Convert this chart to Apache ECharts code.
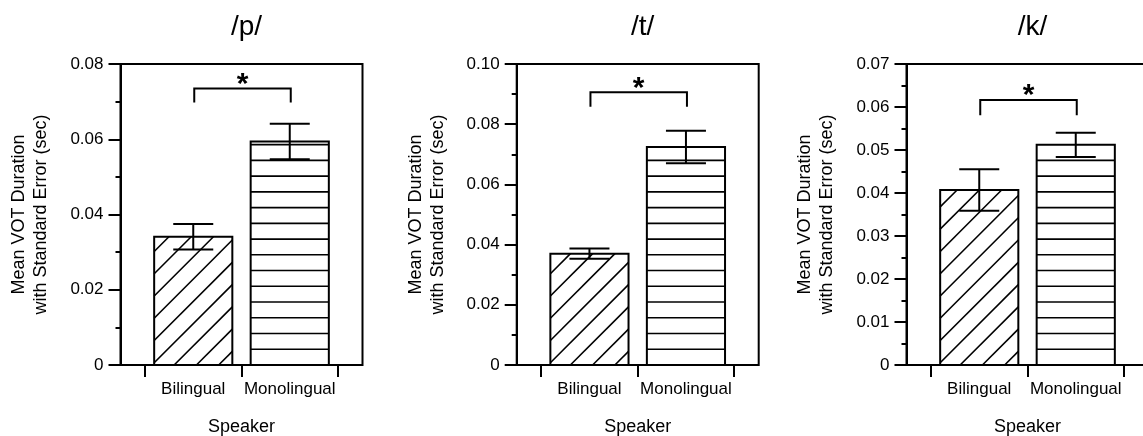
<!DOCTYPE html>
<html>
<head>
<meta charset="utf-8">
<script src="https://cdn.jsdelivr.net/npm/echarts@6/dist/echarts.min.js"></script>
<style>
html,body{margin:0;padding:0;background:#fff;}
#chart{width:1143px;height:436px;}
</style>
</head>
<body>
<div id="chart"></div>
<script>
// ---- data ----
const categories = ['Bilingual', 'Monolingual'];
const panelTitles = ['/p/', '/t/', '/k/'];
const pMeans = [0.0341, 0.0594];
const pSE = [0.0034, 0.0047];
const tMeans = [0.0370, 0.0724];
const tSE = [0.0017, 0.0054];
const kMeans = [0.0407, 0.0512];
const kSE = [0.0048, 0.0028];
const yMaxes = [0.08, 0.10, 0.07];
const yIntervals = [0.02, 0.02, 0.01];
const bracketTops = [0.0735, 0.0906, 0.0616];
const bracketLegEnds = [0.0698, 0.0858, 0.0581];
const sigLabels = ['*', '*', '*'];
const yAxisTitle = 'Mean VOT Duration\nwith Standard Error (sec)';
const xAxisTitle = 'Speaker';

// ---- layout ----
const FONT = '"Liberation Sans", Arial, Helvetica, sans-serif';
const boxLefts = [120.5, 516.7, 906.5];
const boxWidth = 242;
const innerPad = 24.5;
const innerWidth = 193;
const gridTop = 64;
const gridHeight = 301;
const HATCH = 15.74;

const means = [pMeans, tMeans, kMeans];
const ses = [pSE, tSE, kSE];

function barRender(params, api) {
  const idx = api.value(0);
  const val = api.value(1);
  const pat = api.value(2);
  const topPt = api.coord([idx, val]);
  const botPt = api.coord([idx, 0]);
  const catW = api.size([1, 0])[0];
  const w = catW * 0.81;
  const left = topPt[0] - w / 2;
  const yb = botPt[1], yt = topPt[1];
  const H = yb - yt;
  const children = [{
    type: 'rect', shape: {x: left, y: yt, width: w, height: H},
    style: {fill: '#fff', stroke: null}
  }];
  const ls = {stroke: '#000', lineWidth: 1.6};
  if (pat === 1) {
    for (let y = yb - HATCH; y > yt + 0.5; y -= HATCH) {
      children.push({type: 'line', shape: {x1: left, y1: y, x2: left + w, y2: y}, style: ls});
    }
  } else {
    const step = HATCH * Math.SQRT2;
    let c = 20;
    while (c - step > -H) c -= step;
    for (; c < w; c += step) {
      const v1 = Math.max(0, -c);
      const v2 = Math.min(H, w - c);
      if (v2 <= v1) continue;
      children.push({type: 'line', shape: {
        x1: left + v1 + c, y1: yb - v1, x2: left + v2 + c, y2: yb - v2
      }, style: ls});
    }
  }
  children.push({
    type: 'rect', shape: {x: left, y: yt, width: w, height: H},
    style: {fill: 'none', stroke: '#000', lineWidth: 2}
  });
  return {type: 'group', children: children};
}

function errRender(params, api) {
  const idx = api.value(0);
  const lo = api.coord([idx, api.value(1)]);
  const hi = api.coord([idx, api.value(2)]);
  const hw = 20;
  const st = {stroke: '#000', lineWidth: 2};
  return {type: 'group', children: [
    {type: 'line', shape: {x1: lo[0], y1: lo[1], x2: hi[0], y2: hi[1]}, style: st},
    {type: 'line', shape: {x1: lo[0] - hw, y1: lo[1], x2: lo[0] + hw, y2: lo[1]}, style: st},
    {type: 'line', shape: {x1: hi[0] - hw, y1: hi[1], x2: hi[0] + hw, y2: hi[1]}, style: st}
  ]};
}

function bracketRender(params, api) {
  const a = api.value(0), b = api.value(1);
  const topV = api.value(2), legV = api.value(3);
  const p1 = api.coord([a, legV]), p2 = api.coord([a, topV]);
  const p3 = api.coord([b, topV]), p4 = api.coord([b, legV]);
  const label = sigLabels[params.seriesIndex % 3] || '*';
  return {type: 'group', children: [
    {type: 'polyline', shape: {points: [[p1[0] + 1, p1[1]], [p2[0] + 1, p2[1]], [p3[0] + 1, p3[1]], [p4[0] + 1, p4[1]]]},
     style: {stroke: '#000', lineWidth: 2, fill: 'none'}},
    {type: 'text', x: (p2[0] + p3[0]) / 2 + 1, y: p2[1] - 4,
     style: {text: label, fontSize: 30, fontWeight: 'bold', fontFamily: FONT, fill: '#000', align: 'center', verticalAlign: 'middle'}}
  ]};
}

const grid = [], xAxis = [], yAxis = [], series = [], title = [];
for (let p = 0; p < 3; p++) {
  const bl = boxLefts[p];
  grid.push({left: bl, top: gridTop, width: boxWidth, height: gridHeight, show: true,
             borderColor: '#000', borderWidth: 2, backgroundColor: 'transparent',
             containLabel: false, outerBoundsMode: 'none'});
  grid.push({left: bl + innerPad, top: gridTop, width: innerWidth, height: gridHeight,
             containLabel: false, outerBoundsMode: 'none'});
  xAxis.push({type: 'value', gridIndex: 2 * p, min: 0, max: 1, show: false});
  xAxis.push({
    type: 'category', gridIndex: 2 * p + 1, data: categories, boundaryGap: true,
    axisLine: {show: false},
    axisTick: {show: true, length: 12, lineStyle: {color: '#000', width: 2}},
    axisLabel: {interval: 0, margin: 16, fontSize: 17, color: '#000', fontFamily: FONT},
    name: xAxisTitle, nameLocation: 'middle', nameGap: 53,
    nameTextStyle: {fontSize: 18, color: '#000', fontFamily: FONT}
  });
  yAxis.push({
    type: 'value', gridIndex: 2 * p, min: 0, max: yMaxes[p], interval: yIntervals[p],
    axisLine: {show: true, lineStyle: {color: '#000', width: 2}},
    axisTick: {show: true, length: 12, lineStyle: {color: '#000', width: 2}},
    minorTick: {show: true, splitNumber: 2, length: 5, lineStyle: {color: '#000', width: 2}},
    splitLine: {show: false}, minorSplitLine: {show: false},
    axisLabel: {margin: 17, fontSize: 17, color: '#000', fontFamily: FONT,
      formatter: v => (Math.abs(v) < 1e-9 ? '0' : v.toFixed(2))},
    name: yAxisTitle, nameLocation: 'middle', nameGap: 68,
    nameTextStyle: {fontSize: 18, lineHeight: 22, color: '#000', fontFamily: FONT, align: 'center'}
  });
  yAxis.push({type: 'value', gridIndex: 2 * p + 1, min: 0, max: yMaxes[p], show: false,
              splitLine: {show: false}});
  title.push({text: panelTitles[p], left: bl + boxWidth / 2, top: 8, textAlign: 'center',
    textStyle: {fontSize: 28, fontWeight: 'normal', color: '#000', fontFamily: FONT}});
}
for (let p = 0; p < 3; p++) {
  series.push({type: 'custom', xAxisIndex: 2 * p + 1, yAxisIndex: 2 * p + 1, renderItem: barRender,
    data: categories.map((c, i) => [i, means[p][i], i]), z: 2, silent: true});
}
for (let p = 0; p < 3; p++) {
  series.push({type: 'custom', xAxisIndex: 2 * p + 1, yAxisIndex: 2 * p + 1, renderItem: errRender,
    data: categories.map((c, i) => [i, means[p][i] - ses[p][i], means[p][i] + ses[p][i]]), z: 3, silent: true});
}
for (let p = 0; p < 3; p++) {
  series.push({type: 'custom', xAxisIndex: 2 * p + 1, yAxisIndex: 2 * p + 1, renderItem: bracketRender,
    data: [[0, 1, bracketTops[p], bracketLegEnds[p]]], z: 3, silent: true});
}

const chart = echarts.init(document.getElementById('chart'), null, {renderer: 'canvas'});
chart.setOption({animation: false, backgroundColor: '#fff', title, grid, xAxis, yAxis, series});
</script>
</body>
</html>
